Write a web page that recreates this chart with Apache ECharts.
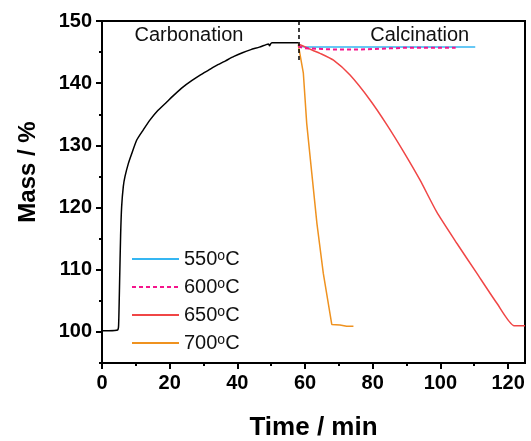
<!DOCTYPE html>
<html>
<head>
<meta charset="utf-8">
<script src="https://cdn.jsdelivr.net/npm/echarts@6/dist/echarts.min.js"></script>
<style>
  html, body { margin: 0; padding: 0; background: #fff; }
  #chart { width: 531px; height: 441px; }
</style>
</head>
<body>
<div id="chart"></div>
<script>
// carbonation step (black)
const carbTime = [0, 2, 4.6, 4.9, 5.2, 5.5, 5.8, 6.3, 6.8, 7.8, 8.8, 10.3, 12.2, 14.2, 16.5, 19, 21.5, 24, 26.5, 29, 31.5, 34, 36.5, 39, 41.5, 44, 46.5, 48.5, 49.2, 49.5, 49.8, 50.2, 58]
const carbMass = [100.2, 100.2, 100.3, 101, 108, 115.5, 120.1, 123.4, 125, 127.1, 128.7, 130.9, 132.5, 134.1, 135.6, 136.9, 138.2, 139.4, 140.4, 141.3, 142.1, 142.9, 143.6, 144.3, 144.9, 145.4, 145.8, 146.2, 146.3, 146.0, 146.3, 146.5, 146.5]

// calcination steps
const t550 = [58, 60, 70, 80, 90, 100, 110.3]
const m550 = [146.0, 145.8, 145.8, 145.8, 145.8, 145.8, 145.8]
const t600 = [58, 60, 65, 70, 75, 80, 85, 90, 95, 100, 104.5]
const m600 = [145.9, 145.6, 145.5, 145.4, 145.4, 145.5, 145.6, 145.7, 145.7, 145.7, 145.7]
const t650 = [58, 61, 64.4, 68.4, 73.3, 79.2, 84.2, 89.1, 94, 98.9, 104.8, 110.8, 116.7, 121.8, 125]
const m650 = [146.3, 145.6, 144.8, 143.7, 141.3, 137.3, 133.3, 129, 124.4, 119.3, 114.3, 109.4, 104.6, 101, 101]
const t700 = [58, 58.5, 59.5, 60.5, 62, 63.5, 65.4, 67.9, 70.3, 72.3, 74.3]
const m700 = [146.2, 145.9, 141.6, 133.5, 125.5, 117.5, 109.4, 101.2, 101.1, 100.9, 100.9]

const xMajor = [0, 20, 40, 60, 80, 100, 120]
const xMinor = [10, 30, 50, 70, 90, 110]
const yMajor = [100, 110, 120, 130, 140, 150]
const yMinor = [95, 105, 115, 125, 135, 145]

const seriesNames = ['550°C', '600°C', '650°C', '700°C']
const seriesColors = ['#35b6f2', '#f5148c', '#f04646', '#ef921f']

const notes = [
  { text: 'Carbonation', x: 25.7, y: 147.6 },
  { text: 'Calcination', x: 93.9, y: 147.6 }
]

const FONT = 'Arial, "Liberation Sans", sans-serif'

function pairs(xs, ys) {
  return xs.map((x, i) => [x, ys[i]])
}

const chart = echarts.init(document.getElementById('chart'))

const calcData = [pairs(t550, m550), pairs(t600, m600), pairs(t650, m650), pairs(t700, m700)]

const calcSeries = calcData.map((d, i) => {
  return {
    name: seriesNames[i],
    type: 'line',
    data: d,
    symbol: 'none',
    color: seriesColors[i],
    smooth: i === 2 ? 0.2 : false,
    lineStyle: {
      width: i === 1 ? 2 : 1.5,
      type: i === 1 ? [4, 3] : 'solid'
    },
    z: 3 + (i === 1 ? 1 : 0)
  }
})

chart.setOption({
  animation: false,
  textStyle: { fontFamily: FONT },
  grid: {
    left: 102,
    right: 6,
    top: 21,
    bottom: 78,
    show: true,
    borderColor: '#000',
    borderWidth: 2,
    containLabel: false,
    outerBoundsMode: 'none'
  },
  legend: {
    data: seriesNames,
    orient: 'vertical',
    left: 126,
    top: 244,
    itemWidth: 47,
    itemHeight: 14,
    itemGap: 8,
    itemStyle: { opacity: 0 },
    formatter: name => name.replace('°C', '') + '{sup|o}C',
    textStyle: {
      fontSize: 20,
      color: '#111',
      rich: {
        sup: { fontSize: 14, verticalAlign: 'top', lineHeight: 20 }
      }
    }
  },
  xAxis: [
    {
      type: 'value',
      min: 0,
      max: 125,
      name: 'Time / min',
      nameLocation: 'middle',
      nameGap: 52,
      nameTextStyle: { fontSize: 26, fontWeight: 'bold', color: '#000' },
      axisLine: { lineStyle: { color: '#000', width: 2 } },
      axisTick: { customValues: xMajor, inside: false, length: 6, lineStyle: { width: 2 } },
      axisLabel: { customValues: xMajor, fontSize: 20, fontWeight: 'bold', color: '#000', margin: 10 },
      splitLine: { show: false }
    },
    {
      type: 'value',
      min: 0,
      max: 125,
      position: 'bottom',
      axisLine: { show: false },
      axisTick: { customValues: xMinor, inside: false, length: 3, lineStyle: { color: '#000', width: 2 } },
      axisLabel: { show: false },
      splitLine: { show: false }
    }
  ],
  yAxis: [
    {
      type: 'value',
      min: 95,
      max: 150,
      name: 'Mass / %',
      nameLocation: 'middle',
      nameGap: 62,
      nameTextStyle: { fontSize: 24, fontWeight: 'bold', color: '#000', padding: [0, 0, 0, 40] },
      axisLine: { lineStyle: { color: '#000', width: 2 } },
      axisTick: { customValues: yMajor, inside: false, length: 6, lineStyle: { width: 2 } },
      axisLabel: { customValues: yMajor, fontSize: 20, fontWeight: 'bold', color: '#000', margin: 10 },
      splitLine: { show: false }
    },
    {
      type: 'value',
      min: 95,
      max: 150,
      position: 'left',
      axisLine: { show: false },
      axisTick: { customValues: yMinor, inside: false, length: 3, lineStyle: { color: '#000', width: 2 } },
      axisLabel: { show: false },
      splitLine: { show: false }
    }
  ],
  series: [
    {
      name: 'Carbonation',
      type: 'line',
      data: pairs(carbTime, carbMass),
      symbol: 'none',
      color: '#000',
      smooth: 0.2,
      lineStyle: { width: 1.5 },
      z: 2,
      markLine: {
        silent: true,
        symbol: 'none',
        label: { show: false },
        lineStyle: { color: '#000', type: [4, 3], width: 1.5 },
        data: [[{ coord: [58, 150] }, { coord: [58, 143.5] }]]
      }
    }
  ].concat(calcSeries)
})

// text notes placed in data space
chart.setOption({
  graphic: notes.map(n => {
    const p = chart.convertToPixel({ gridIndex: 0 }, [n.x, n.y])
    return {
      type: 'text',
      x: p[0],
      y: p[1],
      style: {
        text: n.text,
        font: '20px ' + FONT,
        fill: '#111',
        align: 'center',
        verticalAlign: 'middle'
      }
    }
  })
})
</script>
</body>
</html>
